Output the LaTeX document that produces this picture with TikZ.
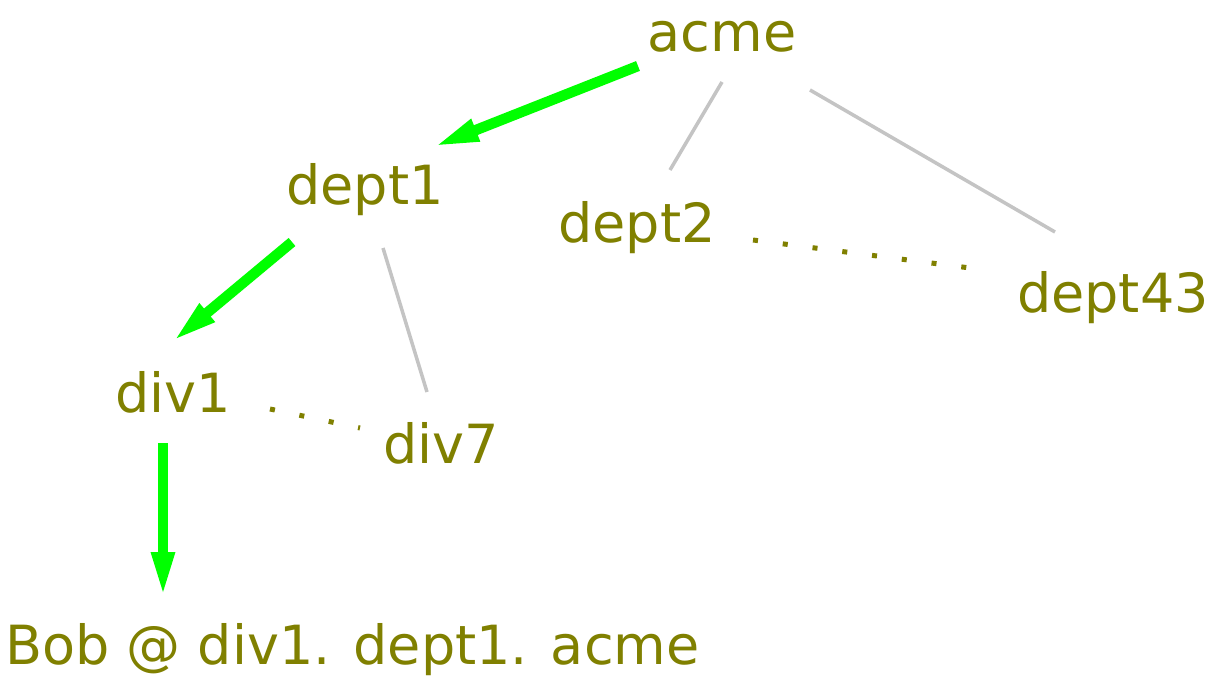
\documentclass[tikz,border=0pt]{standalone}
\usepackage{fontspec}
\setmainfont{DejaVu Sans}
\usetikzlibrary{arrows.meta}
\definecolor{olivetxt}{HTML}{808000}
\definecolor{arrowgreen}{HTML}{00FF00}
\definecolor{linegray}{HTML}{C4C4C4}
\tikzset{
  lbl/.style={text=olivetxt, inner sep=0pt, anchor=base, font=\fontsize{54}{62}\selectfont},
  path arrow/.style={draw=arrowgreen, line width=10.5pt, -{Triangle[length=46pt, width=21pt]}},
  tree line/.style={draw=linegray, line width=3.5pt},
  dotline/.style={draw=olivetxt, line width=5pt, dash pattern=on 5pt off 25pt}
}
\begin{document}
\begin{tikzpicture}[x=1pt, y=-1pt]
\useasboundingbox[fill=white] (0,0) rectangle (1214,676);
\node[lbl] (acme) at (722,52) {acme};
\node[lbl] (dept1) at (365,205) {dept1};
\node[lbl] (dept2) at (637,243) {dept2};
\node[lbl] (dept43) at (1113,312) {dept43};
\node[lbl] (div1) at (173,412) {div1};
\node[lbl] (div7) at (441,463) {div7};
\node[lbl, anchor=base west] (bob) at (5,664) {Bob @ div1. dept1. acme};
% grey tree lines
\draw[tree line] ([shift={(0,30)}]acme.base) -- ([shift={(33,-73)}]dept2.base);
\draw[tree line] ([shift={(88,38)}]acme.base) -- ([shift={(-58,-80)}]dept43.base);
\draw[tree line] ([shift={(18,43)}]dept1.base) -- ([shift={(-14,-71)}]div7.base);
% dotted lines
\draw[dotline] ([shift={(116,-3)}]dept2.base) -- ([shift={(-143,-44)}]dept43.base);
\draw[dotline] ([shift={(97,-3)}]div1.base) -- ([shift={(-81,-35)}]div7.base);
% green path arrows
\path[path arrow] ([shift={(-84,14)}]acme.base) -- ([shift={(68,-58)}]dept1.base);
\path[path arrow] ([shift={(-73,37)}]dept1.base) -- ([shift={(-1,-70)}]div1.base);
\path[path arrow] ([shift={(-10,31)}]div1.base) -- ([shift={(158,-66)}]bob.base west);
\end{tikzpicture}
\end{document}
